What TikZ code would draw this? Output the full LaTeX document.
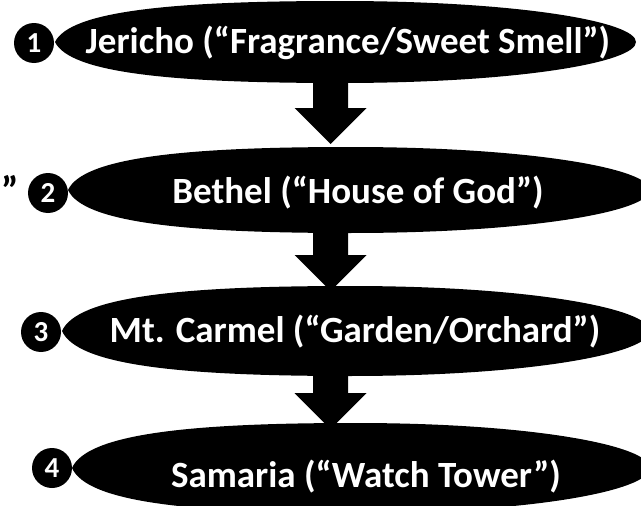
\documentclass[tikz,border=0pt]{standalone}
\usepackage{fontspec}
\setmainfont{Carlito}
\usetikzlibrary{calc}
\newcommand\leafpath[5]{% xl, yc, h, xm, xr
  \fill[black] (#1,#2) .. controls ({#1+15},{#2-0.75*#3}) and ({#1+115},{#2-#3}) .. (#4,{#2-#3})
    .. controls ({#4+0.6*(#5-#4)},{#2-#3}) and (#5,{#2-0.5*#3}) .. (#5,#2)
    .. controls (#5,{#2+0.5*#3}) and ({#4+0.6*(#5-#4)},{#2+#3}) .. (#4,{#2+#3})
    .. controls ({#1+115},{#2+#3}) and ({#1+15},{#2+0.75*#3}) .. cycle;}
\newcommand\blockarrow[2]{%
  \fill[black] ($(#1)+(-17.5,0)$) -- ($(#1)+(17.5,0)$) -- ($(#2)+(17.5,-36)$) -- ($(#2)+(36,-36)$)
    -- (#2) -- ($(#2)+(-36,-36)$) -- ($(#2)+(-17.5,-36)$) -- cycle;}
\tikzset{
  lbl/.style={text=white, font=\bfseries\fontsize{37}{44}\selectfont, inner sep=0pt},
  num/.style={circle, fill=black, text=white, minimum size=40pt, inner sep=0pt, font=\bfseries\fontsize{29}{34}\selectfont},
  stray/.style={text=black, font=\bfseries\fontsize{40}{48}\selectfont, inner sep=0pt}
}
\begin{document}
\begin{tikzpicture}[x=1pt,y=-1pt]
\useasboundingbox (0,0) rectangle (641,506);
\begin{scope}
\clip (0,0) rectangle (641,506);
% connector end points
\coordinate (b1) at (330.5,80);
\coordinate (t2) at (330.5,144);
\coordinate (b2) at (330.5,229);
\coordinate (t3) at (330.5,291);
\coordinate (b3) at (330.5,372);
\coordinate (t4) at (330.5,429);
\blockarrow{b1}{t2}
\blockarrow{b2}{t3}
\blockarrow{b3}{t4}
% shapes
\leafpath{55}{42}{41}{340}{636}
\leafpath{68}{190}{43}{350}{650}
\leafpath{62}{331}{45}{350}{650}
\leafpath{72}{468}{45}{355}{650}
\end{scope}
% numbers
\node[num] (n1) at (34,43) {1};
\node[num] (n2) at (48,193) {2};
\node[num] (n3) at (41,332) {3};
\node[num] (n4) at (52,468) {4};
% labels
\node[lbl] (l1) at (348,43) {Jericho (“Fragrance/Sweet Smell”)};
\node[lbl] (l2) at (358,193) {Bethel (“House of God”)};
\node[lbl] (l3) at (355,332) {Mt. Carmel (“Garden/Orchard”)};
\node[lbl] (l4) at (366,477) {Samaria (“Watch Tower”)};
\node[stray, anchor=base east] (q) at (19,204) {”};
\end{tikzpicture}
\end{document}
